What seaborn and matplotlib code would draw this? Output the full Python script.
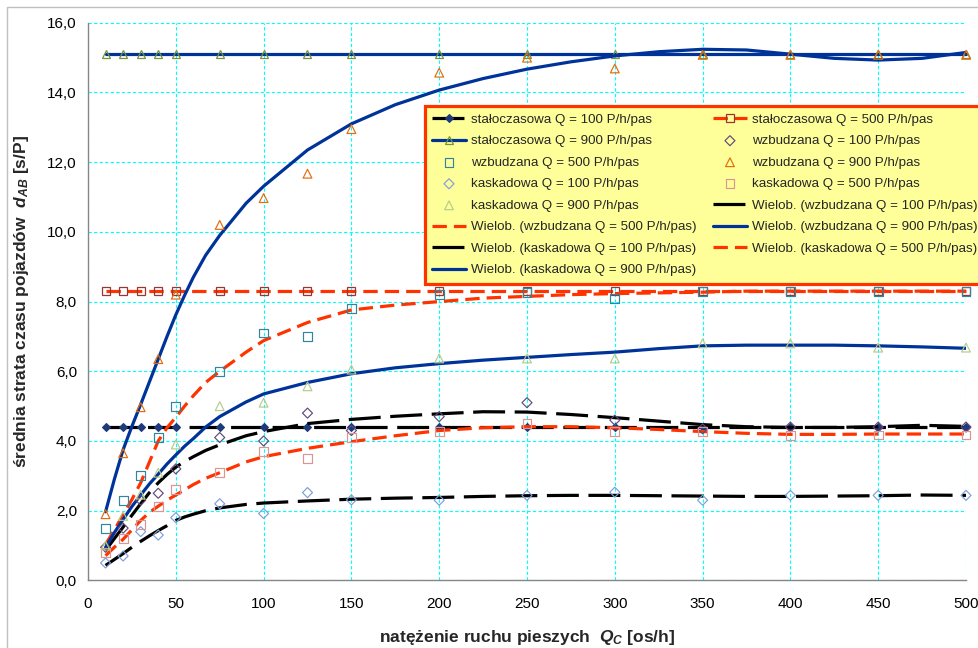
import numpy as np
import pandas as pd
import matplotlib
matplotlib.use("Agg")
import matplotlib.pyplot as plt
import seaborn as sns
from matplotlib.patches import Rectangle
from matplotlib.ticker import FuncFormatter, MultipleLocator

# ---------------- data ----------------
x = [10, 20, 30, 40, 50, 75, 100, 125, 150, 200, 250, 300, 350, 400, 450, 500]

stalo_100 = [4.4, 4.4, 4.4, 4.4, 4.4, 4.4, 4.4, 4.4, 4.4, 4.4, 4.4, 4.4, 4.4, 4.4, 4.4, 4.4]
stalo_500 = [8.3, 8.3, 8.3, 8.3, 8.3, 8.3, 8.3, 8.3, 8.3, 8.3, 8.3, 8.3, 8.3, 8.3, 8.3, 8.3]
stalo_900 = [15.1, 15.1, 15.1, 15.1, 15.1, 15.1, 15.1, 15.1, 15.1, 15.1, 15.1, 15.1, 15.1, 15.1, 15.1, 15.1]

wzb_100 = [0.95, 1.5, 2.3, 2.5, 3.2, 4.1, 4.0, 4.8, 4.3, 4.7, 5.1, 4.6, 4.35, 4.4, 4.4, 4.4]
wzb_500 = [1.5, 2.3, 3.0, 4.1, 5.0, 6.0, 7.1, 7.0, 7.8, 8.2, 8.25, 8.1, 8.3, 8.3, 8.3, 8.3]
wzb_900 = [1.9, 3.65, 4.97, 6.35, 8.2, 10.2, 10.97, 11.67, 12.95, 14.57, 15.0, 14.69, 15.08, 15.08, 15.08, 15.08]
kas_100 = [0.5, 0.7, 1.4, 1.3, 1.8, 2.2, 1.92, 2.52, 2.31, 2.3, 2.44, 2.53, 2.3, 2.44, 2.44, 2.44]
kas_500 = [0.79, 1.2, 1.6, 2.11, 2.6, 3.09, 3.69, 3.49, 4.11, 4.27, 4.5, 4.27, 4.27, 4.15, 4.17, 4.17]
kas_900 = [1.0, 1.85, 2.46, 3.09, 3.9, 5.0, 5.1, 5.57, 6.05, 6.37, 6.37, 6.37, 6.8, 6.8, 6.68, 6.68]

# polynomial trend lines ("Wielob.")
trend_x = [10, 15, 20, 25, 30, 35, 40, 45, 50, 55, 60, 67, 75, 90, 100, 125, 150, 175, 200,
           225, 250, 275, 300, 325, 350, 375, 400, 425, 450, 475, 500]
tr_wzb_100 = [0.86, 1.2, 1.53, 1.87, 2.2, 2.52, 2.8, 3.04, 3.25, 3.41, 3.55, 3.73, 3.89, 4.15, 4.27, 4.5, 4.62,
              4.71, 4.78, 4.84, 4.83, 4.76, 4.67, 4.57, 4.47, 4.41, 4.39, 4.39, 4.41, 4.45, 4.42]
tr_wzb_500 = [1.03, 1.45, 1.88, 2.32, 2.8, 3.4, 4.0, 4.38, 4.68, 5.0, 5.3, 5.68, 6.0, 6.55, 6.88, 7.4, 7.76,
              7.9, 8.0, 8.1, 8.15, 8.2, 8.23, 8.25, 8.27, 8.3, 8.3, 8.3, 8.3, 8.3, 8.3]
tr_wzb_900 = [1.97, 2.9, 3.75, 4.42, 5.05, 5.7, 6.35, 7.0, 7.62, 8.18, 8.7, 9.33, 9.9, 10.82, 11.31, 12.35, 13.1,
              13.65, 14.07, 14.4, 14.67, 14.88, 15.05, 15.17, 15.24, 15.22, 15.1, 14.98, 14.93, 14.98, 15.15]
tr_kas_100 = [0.43, 0.6, 0.77, 0.95, 1.12, 1.28, 1.43, 1.57, 1.72, 1.82, 1.9, 2.0, 2.08, 2.18, 2.22, 2.28, 2.33,
              2.36, 2.38, 2.41, 2.43, 2.44, 2.44, 2.43, 2.42, 2.41, 2.41, 2.42, 2.43, 2.45, 2.44]
tr_kas_500 = [0.71, 0.95, 1.18, 1.45, 1.72, 1.95, 2.13, 2.3, 2.45, 2.6, 2.75, 2.93, 3.09, 3.4, 3.55, 3.79, 3.98,
              4.15, 4.3, 4.38, 4.41, 4.41, 4.38, 4.33, 4.27, 4.22, 4.19, 4.19, 4.2, 4.2, 4.2]
tr_kas_900 = [0.95, 1.37, 1.75, 2.12, 2.45, 2.77, 3.05, 3.34, 3.6, 3.85, 4.07, 4.4, 4.7, 5.12, 5.35, 5.68, 5.93,
              6.1, 6.22, 6.32, 6.4, 6.48, 6.55, 6.65, 6.73, 6.75, 6.75, 6.75, 6.73, 6.7, 6.66]

x_ticks = [0, 50, 100, 150, 200, 250, 300, 350, 400, 450, 500]
y_ticks = [0, 2, 4, 6, 8, 10, 12, 14, 16]

# ---------------- style ----------------
sns.set_style("white")
plt.rcParams["font.family"] = ["Liberation Sans", "DejaVu Sans"]
plt.rcParams["mathtext.fontset"] = "custom"
plt.rcParams["mathtext.it"] = "Liberation Sans:italic:bold"
plt.rcParams["mathtext.rm"] = "Liberation Sans:bold"
plt.rcParams["mathtext.bf"] = "Liberation Sans:bold"

BLUE = "#003399"
RED = "#FF3300"
LW = 2.3
LONG = (0, (10, 3))
SHORT = (0, (4.5, 2.2))

fig = plt.figure(figsize=(9.79, 6.48), dpi=100)
ax = fig.add_axes([88 / 979, 1 - 580.4 / 648, (966 - 88) / 979, (580.4 - 22.8) / 648])

# constant (stałoczasowa) series
sns.lineplot(x=x, y=stalo_100, ax=ax, color="black", lw=LW, linestyle=LONG,
             marker="D", markersize=4, markerfacecolor="#1F3A7A", markeredgecolor="#1F3A7A",
             markeredgewidth=0.8, clip_on=False, label="stałoczasowa Q = 100 P/h/pas")
sns.lineplot(x=x, y=stalo_500, ax=ax, color=RED, lw=LW, linestyle=SHORT,
             marker="s", markersize=6, markerfacecolor="none", markeredgecolor="#953735",
             markeredgewidth=0.9, clip_on=False, label="stałoczasowa Q = 500 P/h/pas")
sns.lineplot(x=x, y=stalo_900, ax=ax, color=BLUE, lw=LW,
             marker="^", markersize=6, markerfacecolor="none", markeredgecolor="#77933C",
             markeredgewidth=0.9, clip_on=False, label="stałoczasowa Q = 900 P/h/pas")

# measured points
scatter_specs = [
    (wzb_100, "D", "#604A7B", 26, "wzbudzana Q = 100 P/h/pas"),
    (wzb_500, "s", "#31859C", 40, "wzbudzana Q = 500 P/h/pas"),
    (wzb_900, "^", "#E46C0A", 40, "wzbudzana Q = 900 P/h/pas"),
    (kas_100, "D", "#7F9FDB", 26, "kaskadowa Q = 100 P/h/pas"),
    (kas_500, "s", "#D99694", 40, "kaskadowa Q = 500 P/h/pas"),
    (kas_900, "^", "#B5CC8A", 40, "kaskadowa Q = 900 P/h/pas"),
]
for yy, mk, col, size, lab in scatter_specs:
    sns.scatterplot(x=x, y=yy, ax=ax, marker=mk, s=size, color=col, facecolor="none",
                    edgecolor=col, linewidth=0.85, clip_on=False, label=lab, zorder=3)

# trend lines
trend_specs = [
    (tr_wzb_100, "black", LONG, "Wielob. (wzbudzana Q = 100 P/h/pas)"),
    (tr_wzb_500, RED, SHORT, "Wielob. (wzbudzana Q = 500 P/h/pas)"),
    (tr_wzb_900, BLUE, "-", "Wielob. (wzbudzana Q = 900 P/h/pas)"),
    (tr_kas_100, "black", LONG, "Wielob. (kaskadowa Q = 100 P/h/pas)"),
    (tr_kas_500, RED, SHORT, "Wielob. (kaskadowa Q = 500 P/h/pas)"),
    (tr_kas_900, BLUE, "-", "Wielob. (kaskadowa Q = 900 P/h/pas)"),
]
for yy, col, ls, lab in trend_specs:
    sns.lineplot(x=trend_x, y=yy, ax=ax, color=col, lw=LW, linestyle=ls, label=lab)

# ---------------- axes ----------------
ax.set_xlim(0, 500)
ax.set_ylim(0, 16)
ax.set_xticks(x_ticks)
ax.set_yticks(y_ticks)
ax.yaxis.set_major_formatter(FuncFormatter(lambda v, p: f"{v:.1f}".replace(".", ",")))
ax.tick_params(axis="both", length=0, labelsize=11, colors="black")
ax.tick_params(axis="y", pad=8)
ax.tick_params(axis="x", pad=12)
ax.grid(True, color="#00FFFF", linestyle=(0, (3, 2)), linewidth=0.8)
ax.set_axisbelow(True)
for s in ["top", "right"]:
    ax.spines[s].set_visible(False)
for s in ["left", "bottom"]:
    ax.spines[s].set_color("#868686")
    ax.spines[s].set_linewidth(1.0)

ax.set_xlabel(r"natężenie ruchu pieszych  $Q_C$ [os/h]", fontsize=12.5, fontweight="bold", labelpad=12)
ax.set_ylabel(r"średnia strata czasu pojazdów  $d_{AB}$ [s/P]", fontsize=12.5, fontweight="bold", labelpad=12)

# ---------------- legend (row-major order) ----------------
handles, labels = ax.get_legend_handles_labels()
order = list(range(0, len(handles), 2)) + list(range(1, len(handles), 2))
leg = ax.legend([handles[i] for i in order], [labels[i] for i in order],
                ncol=2, loc="upper left", bbox_to_anchor=(425 / 979, 1 - 106 / 648),
                bbox_transform=fig.transFigure, fontsize=9.6, frameon=True, fancybox=False,
                shadow=False, framealpha=1, facecolor="#FFFF99", edgecolor=RED,
                handlelength=2.5, handletextpad=0.4, columnspacing=1.25, labelspacing=0.69,
                borderpad=0.55, borderaxespad=0, numpoints=1, scatterpoints=1)
leg.get_frame().set_linewidth(2.3)

# figure frame
fig.patches.append(Rectangle((7 / 979, -0.1), 1.2, 1.0 - 7 / 648 + 0.1, transform=fig.transFigure,
                             fill=False, edgecolor="#BFBFBF", linewidth=1.0))

fig.savefig("out.png", dpi=100)
